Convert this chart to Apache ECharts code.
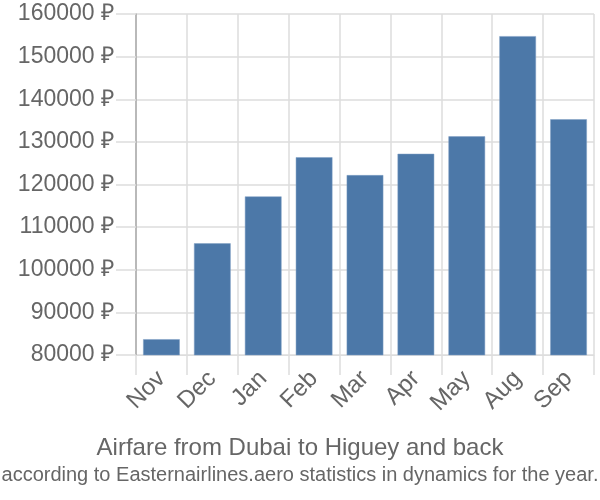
<!DOCTYPE html>
<html><head><meta charset="utf-8">
<script src="https://cdn.jsdelivr.net/npm/echarts@6/dist/echarts.min.js"></script>
<style>html,body{margin:0;padding:0;background:#fff}#c{width:600px;height:500px}</style>
</head><body><div id="c"></div>
<script>
const categories = ['Nov','Dec','Jan','Feb','Mar','Apr','May','Aug','Sep'];
const prices = [83700, 106200, 117200, 126400, 122200, 127200, 131300, 154800, 135300];
const yTicks = {min: 80000, max: 160000, interval: 10000};
const titleText = 'Airfare from Dubai to Higuey and back';
const subtitleText = 'according to Easternairlines.aero statistics in dynamics for the year.';

const font = 'Liberation Sans';
const chart = echarts.init(document.getElementById('c'), null, {renderer: 'canvas'});
chart.setOption({
  animation: false,
  backgroundColor: '#fff',
  title: {
    text: titleText,
    subtext: subtitleText,
    left: 'center',
    top: 431,
    itemGap: 5,
    textStyle: {fontFamily: font, fontSize: 24, fontWeight: 'normal', color: '#666'},
    subtextStyle: {fontFamily: font, fontSize: 20, color: '#666'}
  },
  grid: {left: 136, right: 6, top: 14, bottom: 145, containLabel: false},
  xAxis: {
    type: 'category',
    data: categories,
    boundaryGap: true,
    axisLine: {show: true, lineStyle: {color: '#ddd', width: 1}},
    axisTick: {show: true, length: 20, alignWithLabel: false, lineStyle: {color: '#ddd', width: 1.5}},
    splitLine: {show: true, lineStyle: {color: '#ddd', width: 1.5}},
    axisLabel: {rotate: 45, margin: 20, fontFamily: font, fontSize: 24, color: '#666', interval: 0}
  },
  yAxis: {
    type: 'value',
    min: yTicks.min, max: yTicks.max, interval: yTicks.interval,
    axisLine: {show: true, lineStyle: {color: '#aaa', width: 1.5}},
    axisTick: {show: true, length: 20, lineStyle: {color: '#ddd', width: 1.5}},
    splitLine: {show: true, lineStyle: {color: '#ddd', width: 1.5}},
    axisLabel: {margin: 22, fontFamily: font, fontSize: 23, color: '#666', formatter: v => v + ' ₽'}
  },
  series: [{
    type: 'bar',
    data: prices,
    barWidth: '72%',
    itemStyle: {color: '#4c78a8', borderColor: '#7f9fc4', borderWidth: 0.5}
  }]
});
</script></body></html>
